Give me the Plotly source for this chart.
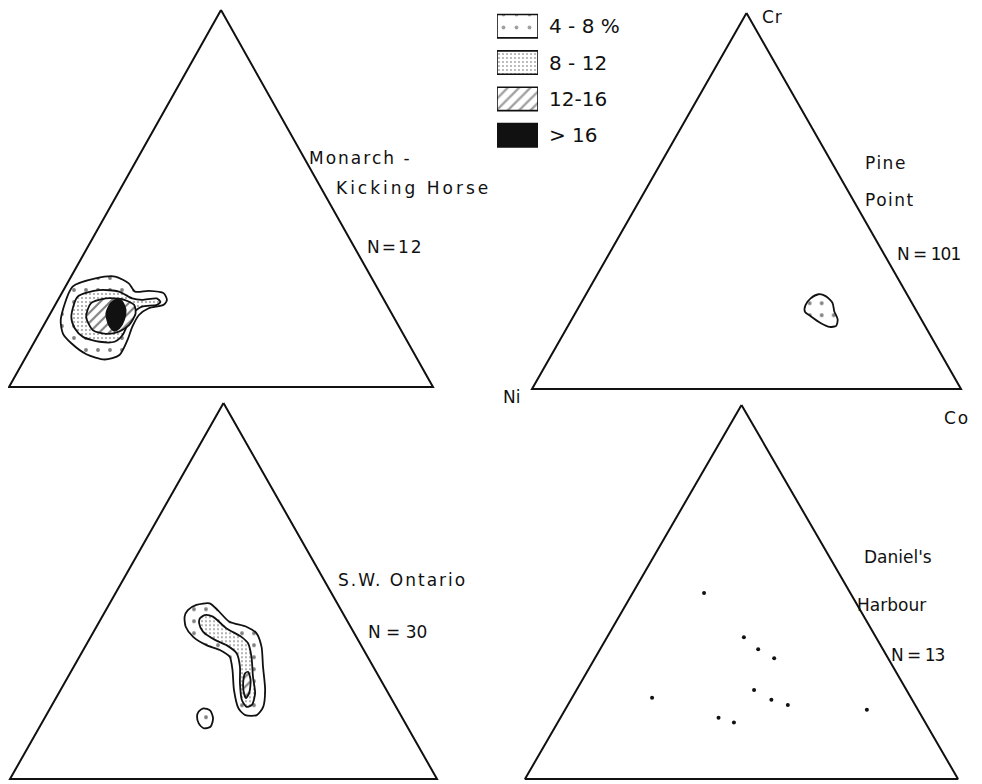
import plotly.graph_objects as go

# page is 982x784; the html body adds an 8px margin, so the figure is laid out in page pixels minus OFF
PAGE_W, PAGE_H = 982, 784
OFF = 8
W, H = PAGE_W - OFF, PAGE_H - OFF

# ---------------- data: ternary compositions in percent (Cr, Co; Ni = rest) ----------------
TRI_CR = [100, 0, 0, 100]
TRI_CO = [0, 0, 100, 0]

# Monarch - Kicking Horse (N = 12)
MKH_4_CR = [17.8, 26.6, 28.8, 29.3, 27.5, 25.3, 25.5, 24.9, 23.1, 21.8, 20.9, 19.1, 16.0, 12.5, 8.5, 7.3, 8.7, 11.6, 14.1]
MKH_4_CO = [3.3, 1.7, 6.0, 10.4, 14.5, 17.1, 20.2, 24.0, 25.7, 25.6, 22.5, 21.1, 21.1, 21.7, 21.8, 18.9, 13.9, 8.9, 5.7]
MKH_8_CR = [18.6, 24.0, 25.7, 25.3, 23.5, 23.1, 23.5, 22.6, 21.8, 21.3, 19.5, 16.4, 13.8, 12.0, 12.0, 13.3, 15.6]
MKH_8_CO = [5.4, 4.2, 8.4, 13.3, 17.3, 19.8, 23.1, 24.4, 24.0, 20.7, 19.3, 19.7, 19.9, 18.9, 15.4, 10.8, 7.7]
MKH_12_CR = [18.6, 22.2, 23.5, 23.3, 21.8, 19.5, 16.4, 14.7, 14.1, 15.1]
MKH_12_CO = [8.9, 8.2, 11.1, 15.0, 18.6, 20.1, 20.1, 18.6, 15.8, 12.2]
MKH_16_CR = [22.2, 23.3, 22.6, 20.4, 17.8, 15.6, 14.9, 16.4, 19.5]
MKH_16_CO = [12.9, 13.9, 15.4, 17.3, 18.2, 18.2, 17.4, 15.4, 13.2]

# Pine Point (N = 101)
PP_4_CR = [22.3, 24.1, 25.2, 24.7, 22.9, 20.7, 18.5, 16.8, 16.5, 17.5, 19.3, 20.6]
PP_4_CO = [52.6, 52.9, 54.2, 56.1, 58.6, 60.1, 62.0, 62.5, 61.1, 58.6, 55.4, 53.3]

# S.W. Ontario (N = 30)
SWO_4_CR = [44.9, 46.3, 46.7, 44.9, 41.8, 40.5, 38.8, 35.2, 29.9, 23.7, 19.2, 17.0, 17.0, 18.8, 23.7, 29.0, 32.5, 34.3, 35.6, 37.8, 40.5, 43.2]
SWO_4_CO = [19.2, 20.5, 23.4, 26.2, 30.5, 35.1, 38.3, 41.3, 44.3, 47.9, 49.7, 49.3, 46.6, 44.1, 40.6, 37.6, 35.2, 32.0, 28.2, 24.0, 20.9, 19.3]
SWO_8_CR = [42.7, 43.6, 43.2, 40.1, 37.8, 36.1, 32.5, 27.2, 22.8, 19.7, 19.2, 21.0, 25.5, 29.9, 33.4, 35.6, 37.0, 39.2, 41.4]
SWO_8_CO = [23.1, 23.8, 25.9, 30.6, 35.3, 37.7, 40.3, 43.3, 46.0, 46.8, 45.8, 43.8, 41.1, 38.9, 36.4, 32.9, 29.5, 25.6, 23.6]
SWO_12_CR = [28.1, 28.5, 26.3, 22.8, 21.5, 23.7, 26.3]
SWO_12_CO = [41.0, 41.5, 43.2, 44.6, 44.5, 42.8, 41.5]
SWO_4B_CR = [17.9, 18.8, 18.2, 16.1, 13.9, 13.5, 14.8, 16.6]
SWO_4B_CO = [35.2, 35.9, 37.8, 39.5, 40.0, 38.6, 36.8, 35.5]

# Daniel's Harbour (N = 13) individual analyses
DH_CR = [49.7, 37.9, 34.7, 32.3, 23.8, 21.2, 19.8, 21.7, 16.4, 15.1, 18.5]
DH_CO = [16.5, 31.6, 36.5, 41.4, 41.0, 46.3, 50.8, 18.5, 36.5, 40.7, 69.7]

LEGEND_LABELS = ["4 - 8 %", "8 - 12", "12-16", "> 16"]
LEGEND_VALUES = [1, 1, 1, 1]

# ---------------- styles ----------------
INK = "#111"
STYLE = {
    "4-8": dict(fillcolor="white", fillpattern=dict(shape=".", size=12, solidity=0.08,
                                                    fgcolor="black", bgcolor="white")),
    "8-12": dict(fillcolor="white", fillpattern=dict(shape=".", size=4, solidity=0.16,
                                                     fgcolor="#222", bgcolor="white")),
    "12-16": dict(fillcolor="white", fillpattern=dict(shape="/", size=7, solidity=0.3,
                                                      fgcolor="black", bgcolor="white")),
    ">16": dict(fillcolor=INK),
}

# panel boxes in page pixels: left corner x, right corner x, apex y, base y
PANELS = [
    dict(box=(9, 433, 10, 387), regions=[(MKH_4_CR, MKH_4_CO, "4-8"), (MKH_8_CR, MKH_8_CO, "8-12"),
                                         (MKH_12_CR, MKH_12_CO, "12-16"), (MKH_16_CR, MKH_16_CO, ">16")]),
    dict(box=(532, 961, 13, 389), regions=[(PP_4_CR, PP_4_CO, "4-8")]),
    dict(box=(10, 437, 403, 779), regions=[(SWO_4_CR, SWO_4_CO, "4-8"), (SWO_8_CR, SWO_8_CO, "8-12"),
                                           (SWO_12_CR, SWO_12_CO, "12-16"), (SWO_4B_CR, SWO_4B_CO, "4-8")]),
    dict(box=(525, 958, 405, 779), regions=[], points=(DH_CR, DH_CO)),
]

PAD = 0.01


def px_x(px):
    return (px - OFF) / W


def px_y(py):
    return 1 - (py - OFF) / H


def proj(cr, co):
    """standard ternary projection: x = Co + Cr/2, y = Cr (fractions)."""
    return [c / 100 + r / 200 for r, c in zip(cr, co)], [r / 100 for r in cr]


fig = go.Figure()
layout_axes = {}
for i, p in enumerate(PANELS):
    n = i + 1
    sfx = "" if n == 1 else str(n)
    xa, ya = "x" + sfx, "y" + sfx
    x0, x1, yt, yb = p["box"]
    w, h = x1 - x0, yb - yt
    left = max(OFF, x0 - PAD * w)
    right = min(PAGE_W, x1 + PAD * w)
    top = max(OFF, yt - PAD * h)
    bottom = min(PAGE_H, yb + PAD * h)
    layout_axes["xaxis" + sfx] = dict(domain=[px_x(left), px_x(right)],
                                      range=[(left - x0) / w, (right - x0) / w],
                                      visible=False, anchor=ya, fixedrange=True)
    layout_axes["yaxis" + sfx] = dict(domain=[px_y(bottom), px_y(top)],
                                      range=[(yb - bottom) / h, (yb - top) / h],
                                      visible=False, anchor=xa, fixedrange=True)

    tx, ty = proj(TRI_CR, TRI_CO)
    fig.add_trace(go.Scatter(x=tx, y=ty, mode="lines", line=dict(color=INK, width=2),
                             xaxis=xa, yaxis=ya, hoverinfo="skip", showlegend=False))
    for cr, co, key in p["regions"]:
        rx, ry = proj(cr + cr[:1], co + co[:1])
        fig.add_trace(go.Scatter(x=rx, y=ry, mode="lines", fill="toself",
                                 line=dict(color=INK, width=1.8, shape="spline", smoothing=0.7),
                                 xaxis=xa, yaxis=ya, hoverinfo="skip", showlegend=False, **STYLE[key]))
    if "points" in p:
        px_, py_ = proj(*p["points"])
        fig.add_trace(go.Scatter(x=px_, y=py_, mode="markers", marker=dict(color=INK, size=4),
                                 xaxis=xa, yaxis=ya, hoverinfo="skip", showlegend=False))

# legend swatches as a small bar chart
fig.add_trace(go.Bar(
    x=LEGEND_VALUES, y=LEGEND_LABELS, orientation="h", xaxis="x5", yaxis="y5", width=0.64,
    marker=dict(color=["white", "white", "white", INK], line=dict(color=INK, width=1.6),
                pattern=dict(shape=[".", ".", "/", ""], size=[13, 4, 8, 8],
                             solidity=[0.07, 0.18, 0.3, 0.3], fgcolor="black",
                             bgcolor=["white", "white", "white", INK])),
    hoverinfo="skip", showlegend=False))
layout_axes["xaxis5"] = dict(domain=[px_x(497), px_x(538)], range=[0, 1], visible=False, anchor="y5", fixedrange=True)
layout_axes["yaxis5"] = dict(domain=[px_y(153.5), px_y(8)], type="category", autorange="reversed",
                             side="right", anchor="x5", showgrid=False, zeroline=False, showline=False,
                             ticks="", ticklabelstandoff=10, fixedrange=True,
                             tickfont=dict(size=20, color=INK, family="DejaVu Sans"))

FONT = dict(family="DejaVu Sans", size=17, color=INK)
# (text, centre x, centre y in page pixels, letter spacing px)
TEXTS = [
    ("Monarch -", 360, 158, 2), ("Kicking Horse", 413, 188, 3), ("N=12", 395, 247, 2),
    ("Pine", 886, 163, 1.5), ("Point", 890, 200, 1.5), ("N = 101", 928, 254, -1),
    ("S.W. Ontario", 402, 580, 2), ("N = 30", 397, 632, 0),
    ("Daniel's", 898, 557, 0), ("Harbour", 891, 605, 0), ("N = 13", 918, 655, -1),
    ("Cr", 772, 17, 1), ("Ni", 511, 397, 0), ("Co", 957, 418, 2),
]
annotations = [dict(text=f'<span style="letter-spacing:{ls}px">{t}</span>', x=px_x(x), y=px_y(y),
                    xref="paper", yref="paper", showarrow=False,
                    xanchor="center", yanchor="middle", font=FONT) for t, x, y, ls in TEXTS]

fig.update_layout(width=W, height=H, margin=dict(l=0, r=0, t=0, b=0),
                  paper_bgcolor="white", plot_bgcolor="rgba(0,0,0,0)",
                  bargap=0.36, annotations=annotations, **layout_axes)

fig.write_html("out.html")
